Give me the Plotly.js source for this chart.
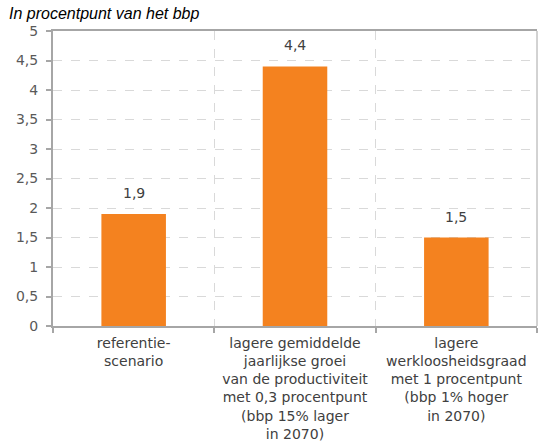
<!DOCTYPE html>
<html>
<head>
<meta charset="utf-8">
<script src="https://cdn.plot.ly/plotly-3.0.1.min.js"></script>
<style>html,body{margin:0;padding:0;background:#fff;}#chart{width:538px;height:444px;}</style>
</head>
<body>
<div id="chart"></div>
<script>
const categories = [
  "referentie-<br>scenario",
  "lagere gemiddelde<br>jaarlijkse groei<br>van de productiviteit<br>met 0,3 procentpunt<br>(bbp 15% lager<br>in 2070)",
  "lagere<br>werkloosheidsgraad<br>met 1 procentpunt<br>(bbp 1% hoger<br>in 2070)"
];
const values = [1.9, 4.4, 1.5];
const valueLabels = ["1,9", "4,4", "1,5"];
const yTitle = "In procentpunt van het bbp";

const labelFont = {family: "DejaVu Sans", size: 14, color: "#404040"};

const trace = {
  type: "bar",
  x: categories,
  y: values,
  marker: {color: "#f4821f"},
  width: 0.4,
  hoverinfo: "none"
};

const annotations = categories.map((c, i) => ({
  x: c, y: values[i], xref: "x", yref: "y",
  text: valueLabels[i], showarrow: false,
  yanchor: "bottom", yshift: 11,
  font: labelFont
}));
annotations.push({
  xref: "paper", yref: "paper", x: -0.095, y: 1.0, xanchor: "left", yanchor: "bottom",
  yshift: 7, text: "<i>" + yTitle + "</i>", showarrow: false,
  font: {family: "Liberation Sans", size: 16, color: "#000000"}
});

const layout = {
  width: 538, height: 444,
  margin: {l: 53, r: 1, t: 31, b: 118},
  paper_bgcolor: "#ffffff", plot_bgcolor: "#ffffff",
  separators: ", ",
  showlegend: false,
  bargap: 0.6,
  xaxis: {
    type: "category",
    tickson: "boundaries",
    ticks: "outside", ticklen: 5, tickcolor: "#a6a6a6", tickwidth: 2,
    showgrid: true, gridcolor: "#d9d9d9", griddash: "dash", gridwidth: 1,
    showline: true, linecolor: "#a6a6a6", linewidth: 2, mirror: true,
    tickfont: labelFont,
    ticklabelstandoff: 3,
    range: [-0.5, 2.5],
    fixedrange: true
  },
  yaxis: {
    range: [0, 5], dtick: 0.5, tick0: 0,
    ticks: "outside", ticklen: 5, tickcolor: "#a6a6a6", tickwidth: 2,
    showgrid: true, gridcolor: "#d9d9d9", griddash: "dash", gridwidth: 1,
    showline: true, linecolor: "#a6a6a6", linewidth: 2,
    zeroline: false,
    tickfont: {family: "DejaVu Sans", size: 14, color: "#595959"},
    ticklabelstandoff: 5,
    fixedrange: true
  },
  shapes: [{
    type: "line", xref: "paper", yref: "paper", x0: 1, x1: 1, y0: 0, y1: 1,
    line: {color: "#a6a6a6", width: 1}
  }],
  annotations: annotations
};

Plotly.newPlot("chart", [trace], layout, {staticPlot: true, displayModeBar: false});
</script>
</body>
</html>
